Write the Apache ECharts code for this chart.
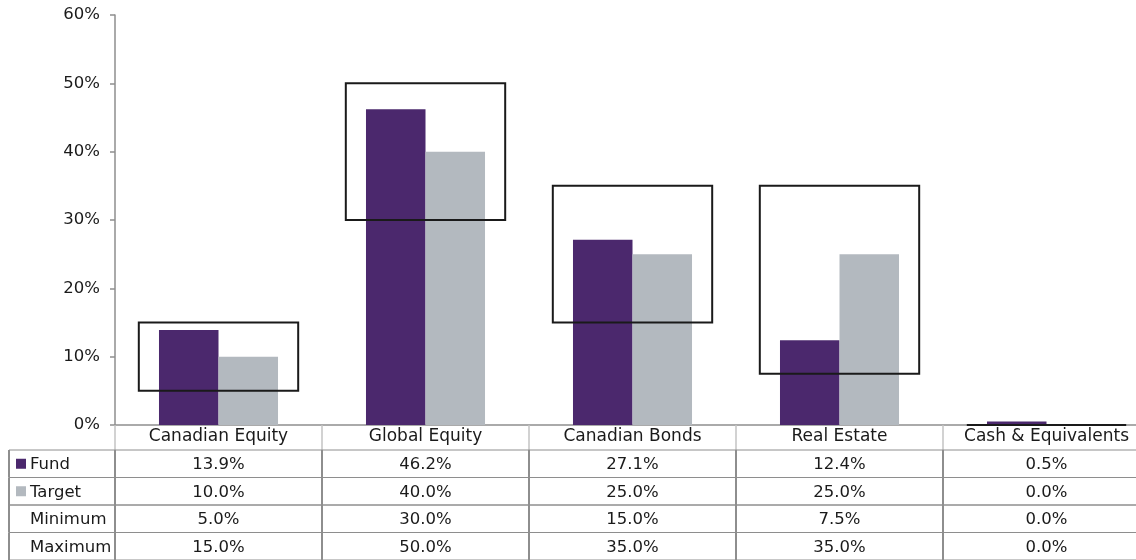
<!DOCTYPE html>
<html>
<head>
<meta charset="utf-8">
<script src="https://cdn.jsdelivr.net/npm/echarts@6/dist/echarts.min.js"></script>
<style>
  html, body { margin: 0; padding: 0; background: #fff; }
  #chart { width: 1136px; height: 560px; }
</style>
</head>
<body>
<div id="chart"></div>
<script>
// Asset classes and allocation figures (percent)
const categories = ['Canadian Equity', 'Global Equity', 'Canadian Bonds', 'Real Estate', 'Cash & Equivalents'];
const fund    = [13.9, 46.2, 27.1, 12.4, 0.5];
const target  = [10.0, 40.0, 25.0, 25.0, 0.0];
const minimum = [5.0, 30.0, 15.0, 7.5, 0.0];
const maximum = [15.0, 50.0, 35.0, 35.0, 0.0];
const rowNames = ['Fund', 'Target', 'Minimum', 'Maximum'];
const yTicks = { min: 0, max: 60, interval: 10 };

const FONT = 'DejaVu Sans';
const TEXT = '#1a1a1a';
const FUND_COLOR = '#4b286d';
const TARGET_COLOR = '#b3b9bf';
const GRID_LINE = '#8e8e8e';
const HEADER_W = 106;
const CELL_FONT = '16.5px "' + FONT + '"';

const rowValues = [fund, target, minimum, maximum];
const rowSwatch = [FUND_COLOR, TARGET_COLOR, null, null];

// table cells: [categoryIndex, rowIndex]
const cellData = [];
rowValues.forEach((arr, r) => arr.forEach((v, c) => cellData.push([c, r])));
const headerData = rowNames.map((n, r) => [0, r]);
const rangeData = categories.map((c, i) => [i, minimum[i], maximum[i]]);

const chart = echarts.init(document.getElementById('chart'), null, { renderer: 'canvas' });

chart.setOption({
  animation: false,
  backgroundColor: '#fff',
  textStyle: { fontFamily: FONT },
  grid: [
    { left: 115, right: -14, top: 15, bottom: 135, containLabel: false, outerBoundsMode: 'none' },
    { left: 115, right: -14, top: 450, bottom: 0, containLabel: false, outerBoundsMode: 'none' }
  ],
  xAxis: [
    {
      type: 'category', gridIndex: 0, data: categories,
      axisLine: { lineStyle: { color: GRID_LINE, width: 1.5 } },
      axisTick: { show: true, interval: 0, length: 25, lineStyle: { color: '#c4c4c4', width: 1.5 } },
      axisLabel: { interval: 0, color: TEXT, fontSize: 17, fontFamily: FONT, margin: 3 }
    },
    { type: 'category', gridIndex: 1, data: categories, show: false }
  ],
  yAxis: [
    {
      type: 'value', gridIndex: 0, min: yTicks.min, max: yTicks.max, interval: yTicks.interval,
      axisLine: { show: true, lineStyle: { color: GRID_LINE, width: 1.5 } },
      axisTick: { show: true, length: 5, lineStyle: { color: GRID_LINE, width: 1.5 } },
      splitLine: { show: false },
      axisLabel: { color: TEXT, fontSize: 16.5, fontFamily: FONT, margin: 15, formatter: '{value}%' }
    },
    { type: 'category', gridIndex: 1, data: rowNames, inverse: true, show: false }
  ],
  series: [
    {
      name: 'Fund', type: 'bar', xAxisIndex: 0, yAxisIndex: 0, data: fund,
      itemStyle: { color: FUND_COLOR }, barGap: '0%', barCategoryGap: '42.5%', z: 2
    },
    {
      name: 'Target', type: 'bar', xAxisIndex: 0, yAxisIndex: 0, data: target,
      itemStyle: { color: TARGET_COLOR }, barGap: '0%', barCategoryGap: '42.5%', z: 2
    },
    {
      // minimum–maximum range box around each pair of bars
      name: 'Range', type: 'custom', xAxisIndex: 0, yAxisIndex: 0, data: rangeData, z: 5,
      encode: { x: 0, y: [1, 2] },
      renderItem: function (params, api) {
        const c = api.value(0);
        const pLo = api.coord([c, api.value(1)]);
        const pHi = api.coord([c, api.value(2)]);
        const w = api.size([1, 0])[0] * 0.77;
        const x0 = pLo[0] - w / 2, x1 = pLo[0] + w / 2;
        return {
          type: 'polygon',
          shape: { points: [[x0, pHi[1]], [x1, pHi[1]], [x1, pLo[1]], [x0, pLo[1]]] },
          style: { fill: null, stroke: '#1a1a1a', lineWidth: 2 }
        };
      }
    },
    {
      // data table cells
      name: 'Table', type: 'custom', xAxisIndex: 1, yAxisIndex: 1, data: cellData, z: 3,
      encode: { x: 0, y: 1 },
      renderItem: function (params, api) {
        const c = api.value(0), r = api.value(1);
        const pt = api.coord([c, r]);
        const sz = api.size([1, 1]);
        const x0 = pt[0] - sz[0] / 2, x1 = pt[0] + sz[0] / 2;
        const y0 = pt[1] - sz[1] / 2, y1 = pt[1] + sz[1] / 2;
        const txt = rowValues[r][c].toFixed(1) + '%';
        return {
          type: 'group',
          children: [
            { type: 'line', shape: { x1: x0, y1: y0, x2: x1, y2: y0 }, style: { stroke: GRID_LINE, lineWidth: 1 } },
            { type: 'line', shape: { x1: x0, y1: y1, x2: x1, y2: y1 }, style: { stroke: GRID_LINE, lineWidth: 1 } },
            { type: 'line', shape: { x1: x0, y1: y0, x2: x0, y2: y1 }, style: { stroke: GRID_LINE, lineWidth: 2 } },
            { type: 'line', shape: { x1: x1, y1: y0, x2: x1, y2: y1 }, style: { stroke: GRID_LINE, lineWidth: 2 } },
            {
              type: 'text', x: pt[0], y: pt[1] + 1,
              style: { text: txt, fill: TEXT, font: CELL_FONT, align: 'center', verticalAlign: 'middle' }
            }
          ]
        };
      }
    },
    {
      // row header column with legend swatches
      name: 'RowHeaders', type: 'custom', xAxisIndex: 1, yAxisIndex: 1, data: headerData, z: 3,
      encode: { x: 0, y: 1 },
      renderItem: function (params, api) {
        const r = api.value(1);
        const pt = api.coord([0, r]);
        const sz = api.size([1, 1]);
        const x1 = pt[0] - sz[0] / 2, x0 = x1 - HEADER_W;
        const y0 = pt[1] - sz[1] / 2, y1 = pt[1] + sz[1] / 2;
        const children = [
          { type: 'line', shape: { x1: x0, y1: y0, x2: x1, y2: y0 }, style: { stroke: GRID_LINE, lineWidth: 1 } },
          { type: 'line', shape: { x1: x0, y1: y1, x2: x1, y2: y1 }, style: { stroke: GRID_LINE, lineWidth: 1 } },
          { type: 'line', shape: { x1: x0, y1: y0, x2: x0, y2: y1 }, style: { stroke: GRID_LINE, lineWidth: 2 } },
          {
            type: 'text', x: x0 + 21, y: pt[1] + 1,
            style: { text: rowNames[r], fill: TEXT, font: CELL_FONT, align: 'left', verticalAlign: 'middle' }
          }
        ];
        if (rowSwatch[r]) {
          children.push({ type: 'rect', shape: { x: x0 + 7, y: pt[1] - 5, width: 10, height: 10 }, style: { fill: rowSwatch[r] } });
        }
        return { type: 'group', children: children };
      }
    }
  ]
});
</script>
</body>
</html>
